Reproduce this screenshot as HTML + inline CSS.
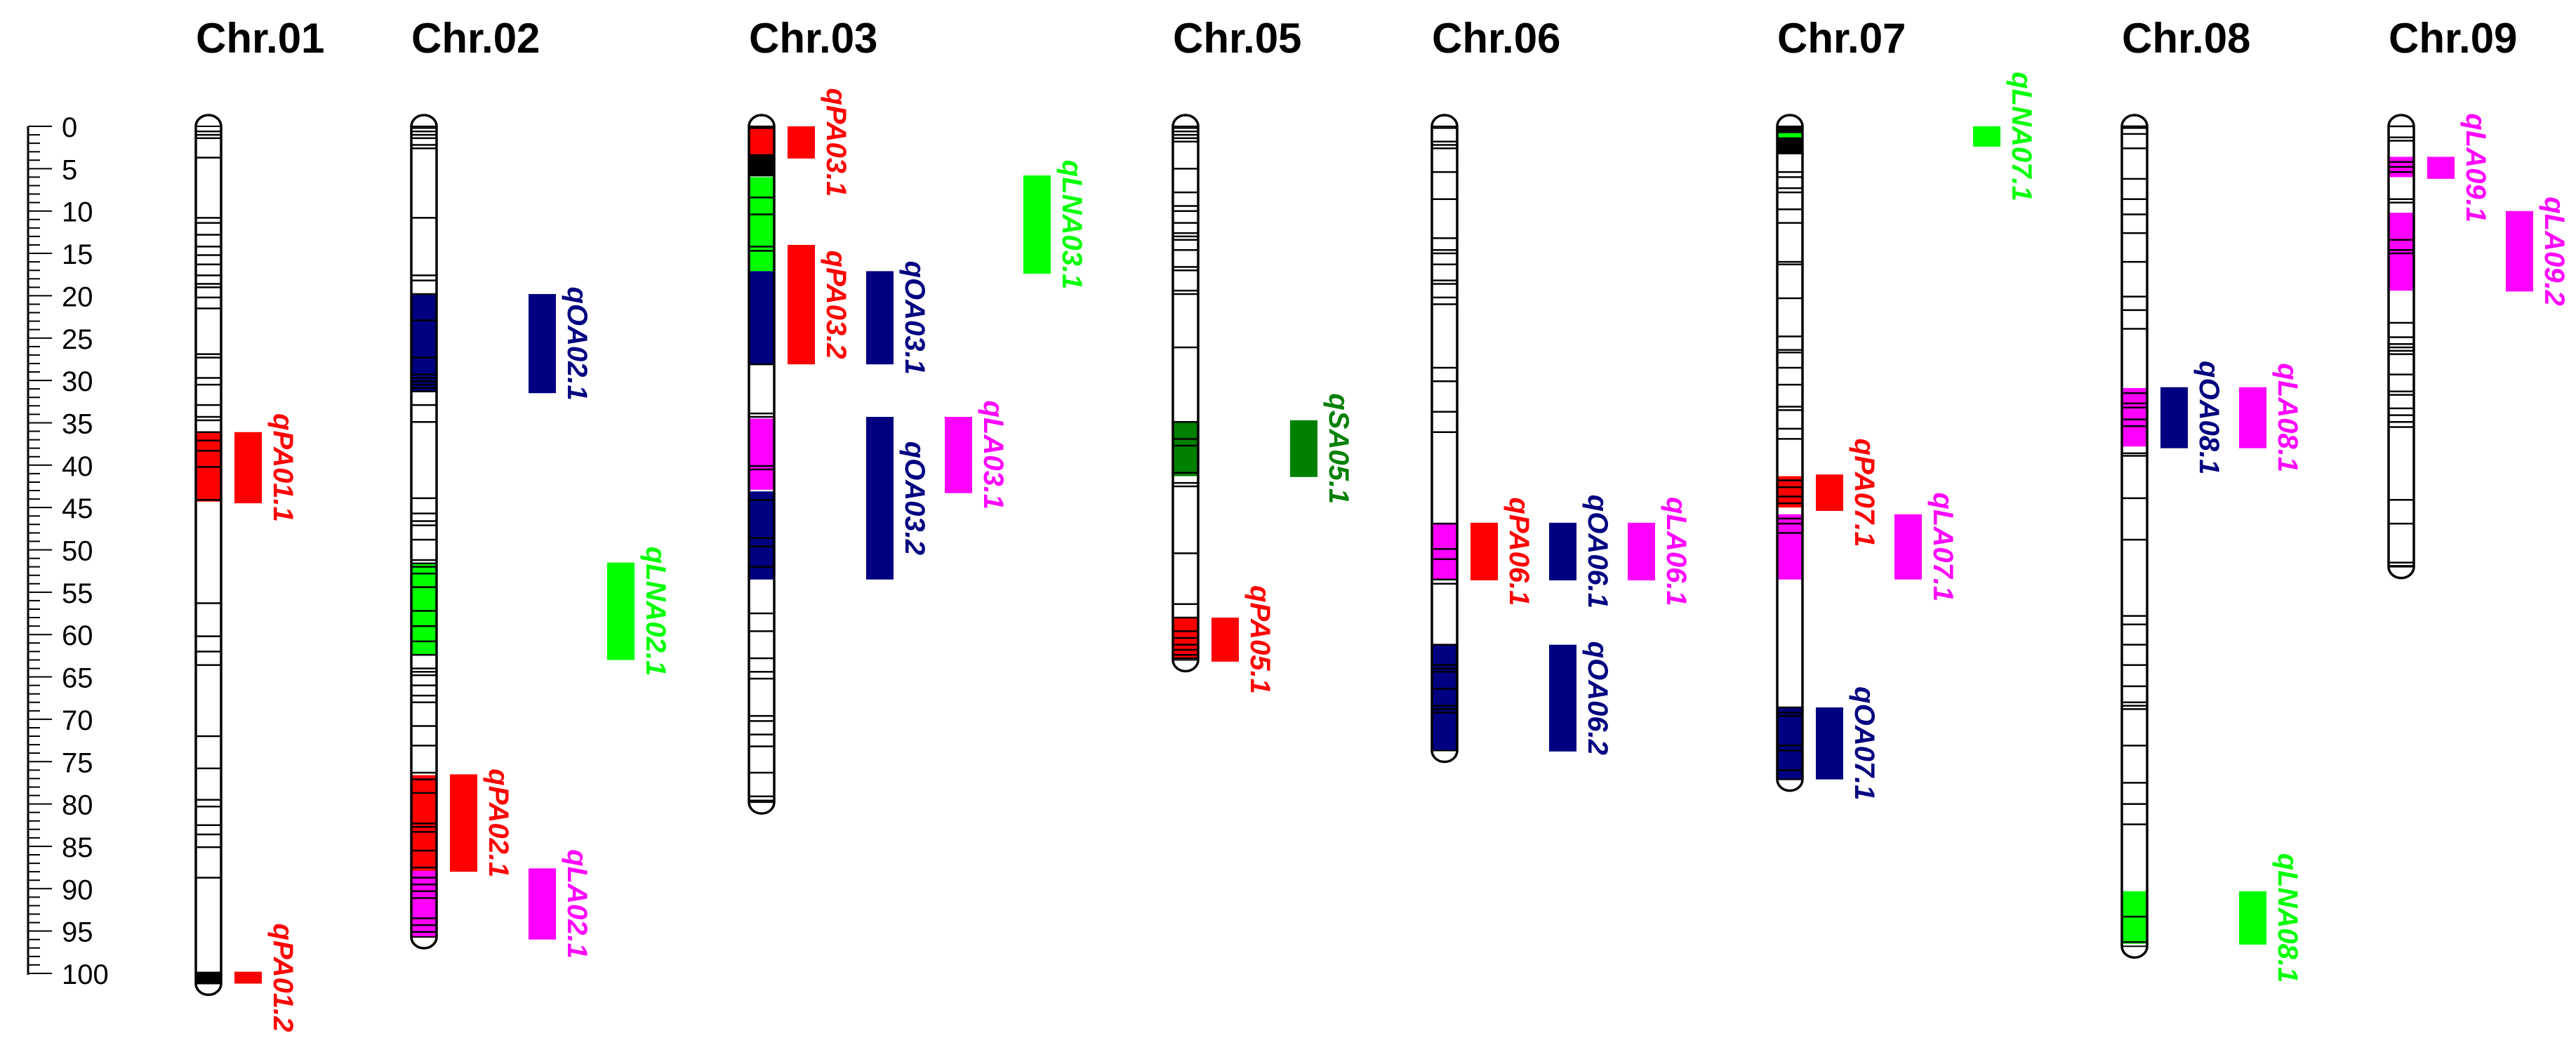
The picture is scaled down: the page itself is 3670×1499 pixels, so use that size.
<!DOCTYPE html>
<html><head><meta charset="utf-8"><title>QTL linkage map</title>
<style>html,body{margin:0;padding:0;background:#fff;}svg{display:block;}</style></head>
<body>
<svg id="chart" xmlns="http://www.w3.org/2000/svg" width="3670" height="1499" viewBox="0 0 3670 1499">
<rect width="3670" height="1499" fill="#fff"/>
<g id="scale"></g>
<g id="chroms"></g>
<g id="qtls"></g>
</svg>
<script>
// ---- data ----
const chrNames = ["Chr.01","Chr.02","Chr.03","Chr.05","Chr.06","Chr.07","Chr.08","Chr.09"];
const chrLengths = [101.2, 95.7, 79.8, 63.0, 73.7, 77.1, 96.8, 52.0];
const chrMarkers = [
 [0.6,1.0,1.4,3.7,10.8,11.4,12.8,14.2,15.2,16.3,17.6,18.6,19.0,20.2,21.5,26.9,27.3,29.7,30.5,32.9,34.3,34.7,36.1,37.1,38.3,40.2,44.1,56.3,60.2,62.0,63.6,72.0,75.8,79.5,80.3,82.5,83.6,85.1,88.7],
 [0.2,0.6,1.0,1.4,2.2,2.6,10.8,17.6,18.2,19.8,22.9,27.3,29.3,29.7,30.1,30.5,30.9,31.3,32.9,34.9,43.9,45.7,46.6,47.1,48.8,51.2,51.6,52.0,52.8,54.4,57.2,59.0,60.8,62.4,64.0,64.4,64.8,66.0,67.2,68.0,70.8,73.1,76.3,77.1,78.7,82.3,82.7,83.3,85.5,87.5,88.7,89.5,90.3,91.1,93.5,94.3,95.1],
 [0.2,3.4,3.8,4.2,4.6,5.0,5.4,5.8,8.4,10.4,14.2,14.7,28.1,33.9,34.3,40.1,40.5,44.1,48.6,49.6,52.0,57.5,59.6,62.8,64.4,65.2,69.6,70.2,71.8,73.2,76.3,79.1,79.6],
 [0.2,0.6,1.0,1.4,1.8,5.0,7.8,9.4,10.0,11.4,12.6,13.0,13.4,14.6,16.6,17.0,19.4,19.8,26.1,34.9,36.9,37.7,40.9,42.1,42.5,50.4,56.4,58.0,59.6,60.4,61.2,61.8,62.4,62.8],
 [0.2,1.8,2.2,2.6,5.4,8.6,13.2,14.6,15.0,16.3,18.2,18.6,20.2,21.0,28.5,30.1,33.7,36.1,46.9,49.9,51.1,53.5,54.0,61.2,63.6,64.0,64.4,66.4,68.4,68.8,69.2],
 [5.4,6.0,7.3,7.8,9.8,11.4,16.0,16.3,20.3,24.8,26.4,26.7,28.5,30.5,33.1,33.5,35.7,36.9,41.8,42.6,43.7,44.5,46.3,46.9,48.0,68.6,69.2,69.6,73.1,73.7,76.0],
 [0.0,0.2,0.9,2.6,6.2,8.6,10.4,12.6,16.0,20.1,21.7,23.9,31.5,32.7,33.2,34.6,35.4,38.6,38.9,43.9,48.8,57.8,58.8,61.2,63.6,66.1,68.0,68.4,68.8,73.1,77.5,80.0,82.4,93.3,96.3],
 [0.0,1.3,1.7,4.2,4.8,5.4,8.6,9.0,13.4,14.6,15.0,23.2,24.9,25.7,26.1,26.5,26.9,29.3,31.3,31.7,33.3,34.1,34.9,35.5,44.1,46.9,51.5,51.9]
];
const segChr   = [0,0,1,1,1,1,2,2,2,2,2,2,3,3,4,4,5,5,5,5,5,6,6,7,7];
const segStart = [36.1,99.8,19.8,51.6,76.6,87.9,0,3.3,6.0,17.1,34.5,43.1,34.9,58.0,46.8,61.2,0,0.8,41.3,45.8,68.6,30.9,90.3,3.6,10.2];
const segEnd   = [44.3,101.2,31.3,62.4,87.9,95.7,3.3,5.9,17.1,28.1,42.9,53.5,41.3,62.8,53.5,73.7,3.3,1.3,45.0,53.5,77.1,37.8,96.5,6.0,19.4];
const segColor = ["#ff0000","#000000","#000080","#00ff00","#ff0000","#ff00ff","#ff0000","#000000","#00ff00","#000080","#ff00ff","#000080","#008000","#ff0000","#ff00ff","#000080","#000000","#00ff00","#ff0000","#ff00ff","#000080","#ff00ff","#00ff00","#ff00ff","#ff00ff"];
const qtlNames = ["qPA01.1","qPA01.2","qOA02.1","qLNA02.1","qPA02.1","qLA02.1","qPA03.1","qPA03.2","qOA03.1","qOA03.2","qLA03.1","qLNA03.1","qPA05.1","qSA05.1","qPA06.1","qOA06.1","qLA06.1","qOA06.2","qPA07.1","qLA07.1","qOA07.1","qLNA07.1","qOA08.1","qLA08.1","qLNA08.1","qLA09.1","qLA09.2"];
const qtlChr   = [0,0,1,1,1,1,2,2,2,2,2,2,3,3,4,4,4,4,5,5,5,5,6,6,6,7,7];
const qtlCol   = [0,0,1,2,0,1,0,0,1,1,2,3,0,1,0,1,2,1,0,1,0,2,0,1,1,0,1];
const qtlStart = [36.1,99.8,19.8,51.5,76.5,87.6,0,14.0,17.1,34.3,34.3,5.8,58.0,34.7,46.8,46.8,46.8,61.2,41.1,45.8,68.6,0,30.8,30.8,90.3,3.6,10.0];
const qtlEnd   = [44.5,101.2,31.5,63.0,88.0,96.0,3.8,28.1,28.1,53.5,43.3,17.4,63.2,41.4,53.6,53.6,53.6,73.8,45.4,53.5,77.1,2.4,38.0,38.0,96.6,6.2,19.5];
const qtlColor = ["#ff0000","#ff0000","#000080","#00ff00","#ff0000","#ff00ff","#ff0000","#ff0000","#000080","#000080","#ff00ff","#00ff00","#ff0000","#008000","#ff0000","#000080","#ff00ff","#000080","#ff0000","#ff00ff","#000080","#00ff00","#000080","#ff00ff","#00ff00","#ff00ff","#ff00ff"];
const scaleTicks = [0,5,10,15,20,25,30,35,40,45,50,55,60,65,70,75,80,85,90,95,100];

// ---- layout ----
const NS = "http://www.w3.org/2000/svg";
const Y0 = 180, PX = 12.07;
function y(cm){ return Y0 + cm*PX; }
const chrLeft = [279,586,1067,1671,2040,2532,3023,3403];
const CW = 36, CAP = 16, BARW = 39, COLSTEP = 112;
function mk(tag, attrs, parent){
  const e = document.createElementNS(NS, tag);
  for (const k in attrs) e.setAttribute(k, attrs[k]);
  parent.appendChild(e); return e;
}
const svg = document.getElementById("chart");
const gScale = document.getElementById("scale");
const gChr = document.getElementById("chroms");
const gQ = document.getElementById("qtls");

// scale bar
let ax = mk("line",{x1:40,y1:y(0),x2:40,y2:y(100)+2,stroke:"#000","stroke-width":3},gScale);


for (let c=0;c<=100;c++){
  const major = c%5===0;
  const t = mk("line",{x1:40,y1:y(c),x2:major?74:57,y2:y(c),stroke:"#000","stroke-width":2},gScale);
  
  
}
scaleTicks.forEach(v=>{
  const t = mk("text",{x:88,y:y(v)+15,"font-family":"Liberation Sans, sans-serif","font-size":40,fill:"#000"},gScale);
  t.textContent = String(v);
  
  
});

// chromosomes
chrNames.forEach((nm,i)=>{
  const g = mk("g",{},gChr);
  
  
  const xl = chrLeft[i], top = y(0)-CAP, bot = y(chrLengths[i])+CAP;
  const title = mk("text",{x:xl,y:75,"font-family":"Liberation Sans, sans-serif","font-size":60,"font-weight":"bold",fill:"#000"},g);
  title.textContent = nm;
  
  
  const clipId = "clip"+i;
  const cp = mk("clipPath",{id:clipId},g);
  mk("rect",{x:xl,y:top,width:CW,height:bot-top,rx:CW/2,ry:CAP},cp);
  const body = mk("rect",{x:xl,y:top,width:CW,height:bot-top,rx:CW/2,ry:CAP,fill:"#fff"},g);
  
  
  const inner = mk("g",{"clip-path":"url(#"+clipId+")"},g);
  segChr.forEach((c,j)=>{
    if (c!==i) return;
    const s = mk("rect",{x:xl,y:y(segStart[j]),width:CW,height:y(segEnd[j])-y(segStart[j]),fill:segColor[j]},inner);
    
    
  });
  chrMarkers[i].forEach(m=>{
    const l = mk("line",{x1:xl,y1:y(m),x2:xl+CW,y2:y(m),stroke:"#000","stroke-width":2.5},inner);
    
    
  });
  // end lines near caps
  mk("line",{x1:xl,y1:y(0),x2:xl+CW,y2:y(0),stroke:"#000","stroke-width":2},inner);
  mk("line",{x1:xl,y1:y(chrLengths[i]),x2:xl+CW,y2:y(chrLengths[i]),stroke:"#000","stroke-width":2},inner);
  const ol = mk("rect",{x:xl,y:top,width:CW,height:bot-top,rx:CW/2,ry:CAP,fill:"none",stroke:"#000","stroke-width":3.5},g);
  
  
});

// QTL bars + labels
qtlNames.forEach((nm,j)=>{
  const i = qtlChr[j];
  const bx = chrLeft[i] + CW + 19 + qtlCol[j]*COLSTEP;
  const y1 = y(qtlStart[j]), y2 = y(qtlEnd[j]);
  const r = mk("rect",{x:bx,y:y1,width:BARW,height:Math.max(y2-y1,4),fill:qtlColor[j]},gQ);
  
  
  const lx = bx + BARW + 17, ly = (y1+y2)/2;
  const t = mk("text",{x:lx,y:ly,"text-anchor":"middle",transform:"rotate(90 "+lx+" "+ly+")","font-family":"Liberation Sans, sans-serif","font-size":40,"font-weight":"bold","font-style":"italic",fill:qtlColor[j]},gQ);
  t.textContent = nm;
  
  
});
</script>
</body></html>
